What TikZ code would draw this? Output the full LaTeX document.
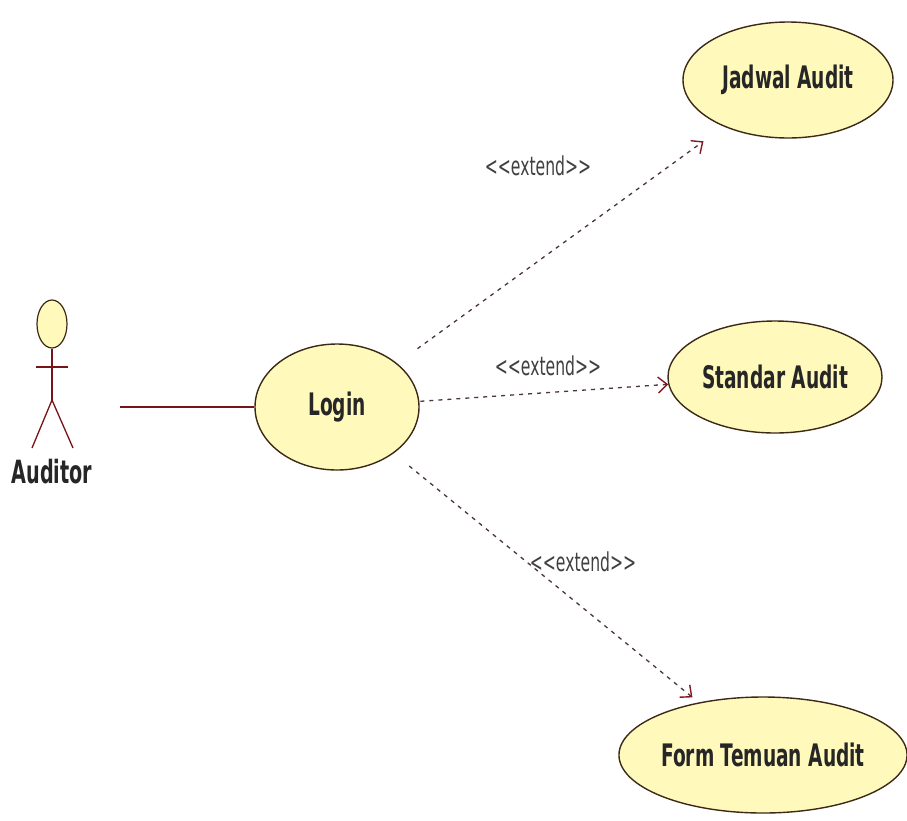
\documentclass[tikz,border=0pt]{standalone}
\usepackage{fontspec}
\setmainfont{DejaVu Sans}[FakeStretch=0.6]
\usetikzlibrary{shapes.geometric,arrows.meta}
\definecolor{ucfill}{RGB}{255,250,188}
\definecolor{ucline}{RGB}{60,42,22}
\definecolor{assoc}{RGB}{120,20,25}
\definecolor{dashc}{RGB}{75,55,55}
\definecolor{tipred}{RGB}{130,25,35}
\newcommand{\ext}{<\kern0pt<\kern0pt extend>\kern0pt>}
\begin{document}
\begin{tikzpicture}[x=1pt,y=-1pt,
  usecase/.style={ellipse,draw=ucline,line width=1.4pt,fill=ucfill,inner sep=0pt,
    font=\fontsize{31}{32}\selectfont\bfseries,text=black!85},
  extlbl/.style={font=\fontsize{26}{28}\selectfont,text=black!75,inner sep=0pt},
  ext/.style={draw=dashc,line width=1.3pt,dash pattern=on 4pt off 5pt,
    -{Straight Barb[length=9pt,width=16pt,line width=1.4pt,color=tipred]}},
  actorline/.style={draw=assoc,line width=1.3pt}]
\useasboundingbox (0,0) rectangle (907,820);
\fill[white] (0,0) rectangle (907,820);
% actor
\node[ellipse,draw=ucline,fill=ucfill,line width=1.2pt,minimum width=30pt,minimum height=48pt,inner sep=0pt] (head) at (52,324) {};
\coordinate (hip) at (52,400);
\coordinate (lhand) at (36,367);
\coordinate (rhand) at (68,367);
\coordinate (lfoot) at (32,448);
\coordinate (rfoot) at (73,448);
\draw[actorline] (head.south) -- (hip);
\draw[actorline] (lhand) -- (rhand);
\draw[actorline] (lfoot) -- (hip) -- (rfoot);
\node[font=\fontsize{32}{34}\selectfont\bfseries,text=black!85,inner sep=0pt] (auditor) at (52,472) {Auditor};
% use cases
\node[usecase,minimum width=164pt,minimum height=126pt] (login) at (337,407) {Login};
\node[usecase,minimum width=210pt,minimum height=116pt] (jadwal) at (788,80) {Jadwal Audit};
\node[usecase,minimum width=214pt,minimum height=112pt] (standar) at (775,377) {Standar Audit};
\node[usecase,minimum width=284pt,minimum height=116pt] (form) at (763,755) {Form Temuan Audit};
% association
\coordinate (assocstart) at (120,407);
\draw[draw=assoc,line width=2pt] (assocstart) -- (login.west);
% extends
\draw[ext,shorten <=25pt,shorten >=25pt] (login) -- (jadwal);
\draw[ext,shorten <=1pt] (login) -- (standar);
\draw[ext,shorten <=20pt,shorten >=8pt] (login) -- (form);
\node[extlbl] (e1) at (538,166) {\ext};
\node[extlbl] (e2) at (548,366) {\ext};
\node[extlbl] (e3) at (583,562) {\ext};
\end{tikzpicture}
\end{document}
